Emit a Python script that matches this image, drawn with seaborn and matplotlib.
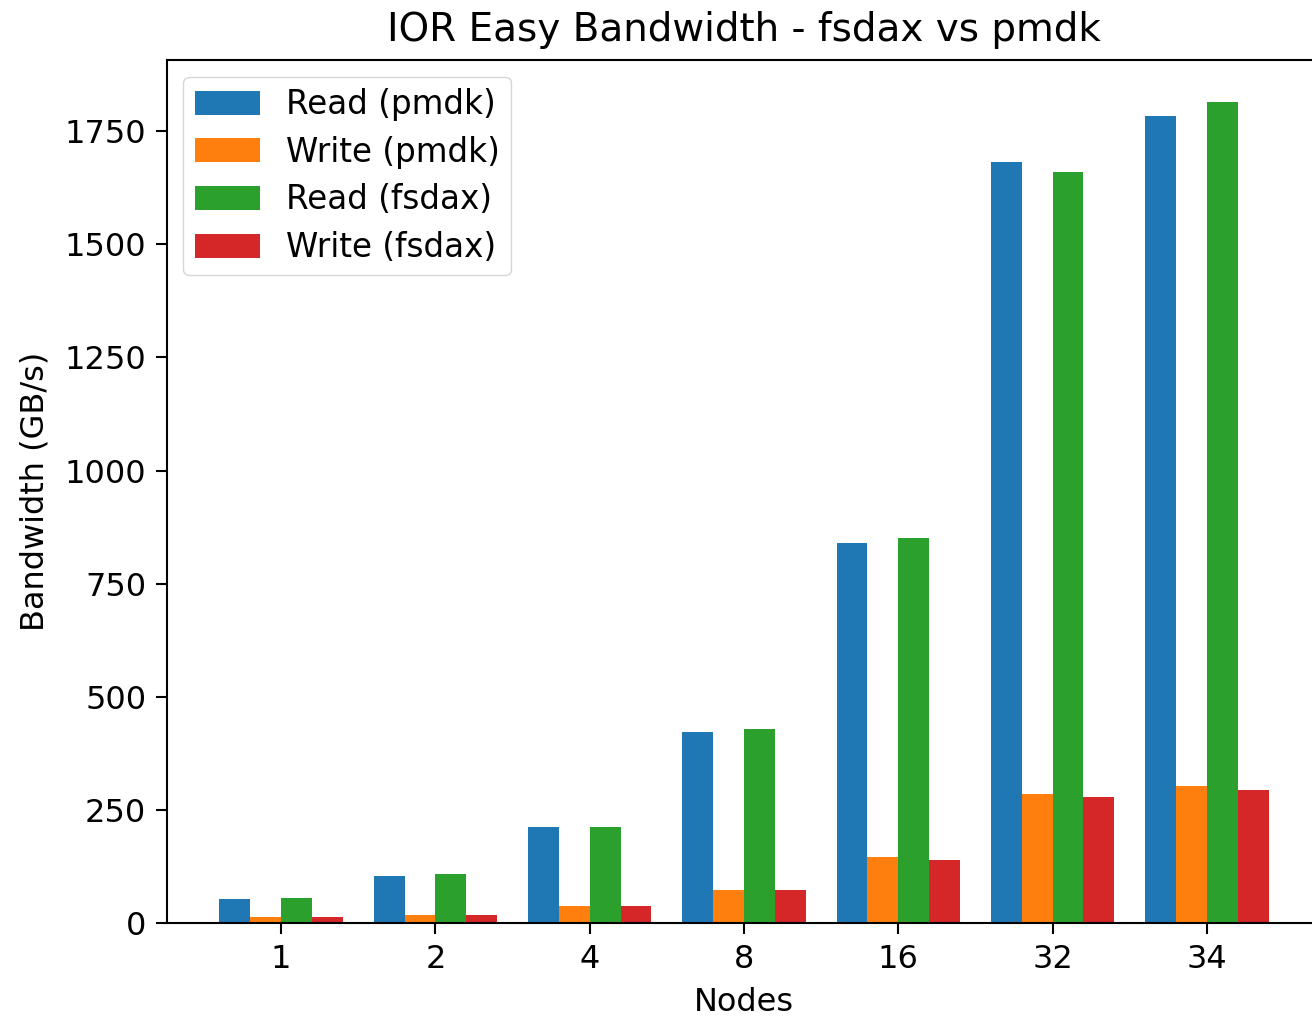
import seaborn as sns
import matplotlib.pyplot as plt
import pandas as pd

# Datos
nodes = ["1", "2", "4", "8", "16", "32", "34"]
read_pmdk = [54, 104, 212, 422, 840, 1681, 1783]
write_pmdk = [13, 17, 37, 73, 145, 284, 303]
read_fsdax = [55, 109, 212, 428, 850, 1660, 1815]
write_fsdax = [13, 17, 37, 73, 139, 278, 293]

series = ["Read (pmdk)", "Write (pmdk)", "Read (fsdax)", "Write (fsdax)"]
colors = ["#1f77b4", "#ff7f0e", "#2ca02c", "#d62728"]

rows = []
for name, vals in zip(series, [read_pmdk, write_pmdk, read_fsdax, write_fsdax]):
    for n, v in zip(nodes, vals):
        rows.append({"Nodes": n, "Bandwidth": v, "Serie": name})
df = pd.DataFrame(rows)

fig = plt.figure(figsize=(13.12, 10.21), dpi=100)
ax = fig.add_axes([0.1273, 0.096, 0.8796, 0.845])

sns.barplot(data=df, x="Nodes", y="Bandwidth", hue="Serie", order=nodes,
            hue_order=series, palette=colors, saturation=1, width=0.8,
            errorbar=None, ax=ax)

ax.set_xlim(-0.74, len(nodes) - 1 + 0.74)
ax.set_ylim(0, 1907)
ax.set_yticks([0, 250, 500, 750, 1000, 1250, 1500, 1750])

ax.set_title("IOR Easy Bandwidth - fsdax vs pmdk", fontsize=28, pad=14)
ax.set_xlabel("Nodes", fontsize=23, labelpad=9)
ax.set_ylabel("Bandwidth (GB/s)", fontsize=23, labelpad=10)
ax.tick_params(labelsize=23, length=8, width=1.5, pad=7)
for s in ax.spines.values():
    s.set_linewidth(1.5)

leg = ax.legend(loc="upper left", fontsize=23.5, title=None, handlelength=2.0,
                handleheight=0.75, borderpad=0.35, labelspacing=0.45)

plt.savefig("out.png", dpi=100)
